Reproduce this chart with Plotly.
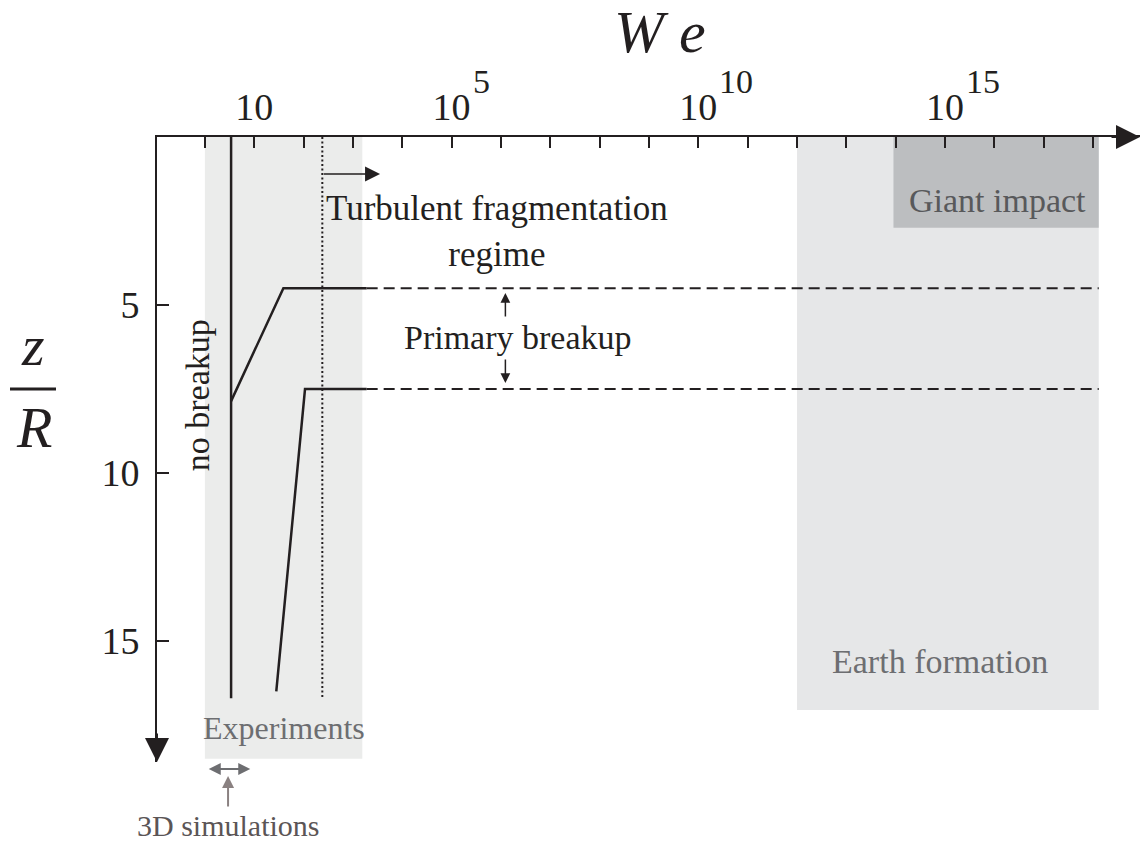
import plotly.graph_objects as go

# regime map: Weber number (top, log) vs depth z/R (downwards)
no_breakup_we = [3.4, 3.4]
no_breakup_z = [0, 16.7]

upper_we = [3.4, 39, 1900]
upper_z = [7.86, 4.5, 4.5]
upper_dash_we = [1900, 1.3e18]
upper_dash_z = [4.5, 4.5]

lower_we = [28, 107, 1900]
lower_z = [16.5, 7.5, 7.5]
lower_dash_we = [1900, 1.3e18]
lower_dash_z = [7.5, 7.5]

turb_we = [240, 240]
turb_z = [0, 16.7]

# shaded regions: (We min, We max, z max)
experiments = (1, 1550, 18.5)
earth = (1e12, 1.3e18, 17.05)
giant = (9e13, 1.3e18, 2.7)

x_tickvals = [10 ** k for k in range(0, 19)]
x_labelled = {1: "", 5: "5", 10: "10", 15: "15"}   # exponent -> superscript
x_ticktext = ["10" if k in x_labelled else "" for k in range(0, 19)]
y_tickvals = [5, 10, 15]

INK = "#231f20"
SERIF = "Liberation Serif, Times New Roman, serif"

# plot area in screen pixels (page has an 8px body margin)
OFF = 8
L, R_, T, B = 157, 1140, 137, 762
W, H = 1148 - OFF, 844 - OFF


def px(xp):
    return (xp - L) / (R_ - L)


def py(yp):
    return (B - yp) / (B - T)


def box(b, color):
    x0, x1, z1 = b
    return go.Scatter(x=[x0, x1, x1, x0, x0], y=[0, 0, z1, z1, 0], fill="toself",
                      fillcolor=color, mode="lines", line=dict(width=0),
                      hoverinfo="skip", showlegend=False)


fig = go.Figure()
fig.add_trace(box(experiments, "#ebeceb"))
fig.add_trace(box(earth, "#e6e7e8"))
fig.add_trace(box(giant, "#bcbec0"))

solid = dict(color=INK, width=2.5)
dashed = dict(color=INK, width=2, dash="11px,6px")
for xs, zs, ln in [(no_breakup_we, no_breakup_z, solid),
                   (upper_we, upper_z, solid), (lower_we, lower_z, solid),
                   (upper_dash_we, upper_dash_z, dashed),
                   (lower_dash_we, lower_dash_z, dashed),
                   (turb_we, turb_z, dict(color=INK, width=2, dash="2px,2.5px"))]:
    fig.add_trace(go.Scatter(x=xs, y=zs, mode="lines", line=ln,
                             hoverinfo="skip", showlegend=False))

ann = []


def text(x, y, s, size=34, color=INK, xref="x", yref="y", **kw):
    d = dict(x=x, y=y, xref=xref, yref=yref, text=s, showarrow=False,
             font=dict(family=SERIF, size=size, color=color))
    d.setdefault("xanchor", "center")
    d.setdefault("yanchor", "middle")
    d.update(kw)
    ann.append(d)


def arrow(x, y, ax, ay, color=INK, width=1.5, size=1.2, xref="x", yref="y",
          axref="x", ayref="y", side="end"):
    ann.append(dict(x=x, y=y, ax=ax, ay=ay, xref=xref, yref=yref, axref=axref,
                    ayref=ayref, text="", showarrow=True, arrowhead=2,
                    arrowsize=size, arrowwidth=width, arrowcolor=color,
                    arrowside=side))


# axis arrow heads
arrow(1, 1, -30, 0, xref="paper", yref="paper", axref="pixel", ayref="pixel",
      width=2, size=2.4)
arrow(0, 0, 0, -30, xref="paper", yref="paper", axref="pixel", ayref="pixel",
      width=2, size=2.4)

# superscripts of the x tick labels
for k, sup in x_labelled.items():
    if sup:
        text(k, py(82), sup, size=34, yref="paper", xanchor="left", xshift=19)

# labels in the plot
text(5.92, 2.82, "Turbulent fragmentation<br>regime", size=35)
arrow(3.55, 1.1, 2.38, 1.1, width=1.5, size=2.0)
text(6.35, 5.98, "Primary breakup")
arrow(6.09, 4.64, 6.09, 5.39, width=1.5, size=1.3)
arrow(6.09, 7.32, 6.09, 6.58, width=1.5, size=1.3)
text(-0.155, 7.68, "no breakup", textangle=-90)
text(1.61, 17.6, "Experiments", size=32, color="#6d6e71")
text(14.9, 15.6, "Earth formation", color="#6d6e71")
text(16.06, 1.88, "Giant impact", color="#58595b")

# 3D simulations marker below the axis
arrow(0.92, py(769), -43, 0, xref="x", yref="paper", axref="pixel", ayref="pixel",
      color="#6d6e71", width=2, size=1.2, side="end+start")
arrow(0.47, py(776), 0, 32, xref="x", yref="paper", axref="pixel", ayref="pixel",
      color="#8a8181", width=2, size=1.2)
text(0.47, py(825), "3D simulations", size=30, color="#5b5556", yref="paper")

# axis titles
text(px(660), py(32), "<i>W e</i>", size=60, xref="paper", yref="paper")
text(px(33), py(345), "<i>z</i>", size=58, xref="paper", yref="paper")
text(px(34), py(427), "<i>R</i>", size=58, xref="paper", yref="paper")

fig.add_shape(type="line", xref="paper", yref="paper", x0=px(10), x1=px(56),
              y0=py(389), y1=py(389), line=dict(color=INK, width=3))

fig.update_layout(
    width=W, height=H,
    margin=dict(l=L - OFF, r=W - (R_ - OFF), t=T - OFF, b=H - (B - OFF), pad=0),
    paper_bgcolor="white", plot_bgcolor="white",
    font=dict(family=SERIF, color=INK),
    annotations=ann,
    xaxis=dict(type="log", range=[-0.97, 18.95], side="top", showline=True,
               linecolor=INK, linewidth=2, ticks="inside", ticklen=11,
               tickwidth=2, tickcolor=INK, tickvals=x_tickvals,
               ticktext=x_ticktext, tickfont=dict(size=38, family=SERIF),
               showgrid=False, zeroline=False),
    yaxis=dict(range=[18.6, 0], showline=True, linecolor=INK, linewidth=2,
               ticks="inside", ticklen=12, tickwidth=2, tickcolor=INK,
               tickvals=y_tickvals, tickfont=dict(size=38, family=SERIF),
               ticklabelstandoff=8, showgrid=False, zeroline=False),
)

fig.write_html("out.html")
